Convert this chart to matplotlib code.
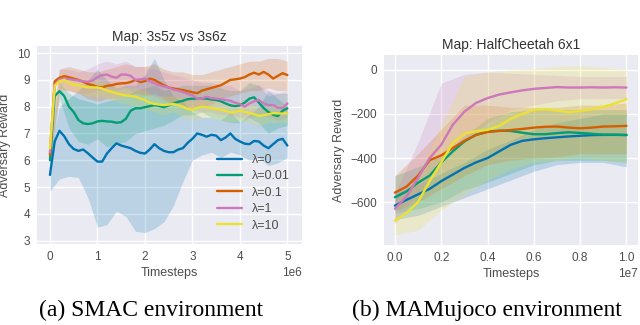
import numpy as np
import matplotlib
matplotlib.use("Agg")
import matplotlib.pyplot as plt
import seaborn as sns

sns.set_theme(style="darkgrid")
plt.rcParams['font.family'] = ['Liberation Sans', 'DejaVu Sans']

labels = ["λ=0", "λ=0.01", "λ=0.1", "λ=1", "λ=10"]
colors = ['#0173b2', '#029e73', '#d55e00', '#cc78bc', '#ece133']

# ---------- SMAC (left) ----------
smac_x = [i / 10 for i in range(51)]  # x 1e6
smac_blue = [5.45, 6.7, 7.1, 6.9, 6.6, 6.42, 6.35, 6.4, 6.26, 6.1, 5.95, 5.95, 6.25, 6.45, 6.63, 6.55,
             6.5, 6.45, 6.35, 6.28, 6.25, 6.4, 6.6, 6.45, 6.35, 6.3, 6.3, 6.4, 6.45, 6.65, 6.8, 7.0,
             6.95, 6.88, 6.95, 6.92, 6.75, 6.85, 7.0, 6.8, 6.7, 6.62, 6.6, 6.72, 6.7, 6.55, 6.45, 6.6,
             6.75, 6.8, 6.55]
smac_green = [6.0, 8.4, 8.58, 8.4, 8.0, 7.8, 7.5, 7.38, 7.35, 7.38, 7.45, 7.47, 7.45, 7.44, 7.4, 7.42,
              7.55, 7.85, 7.94, 7.94, 7.98, 8.02, 8.06, 8.03, 7.98, 8.05, 8.12, 8.18, 8.22, 8.28, 8.3,
              8.3, 8.3, 8.3, 8.27, 8.25, 8.2, 8.12, 8.05, 8.02, 8.05, 8.15, 8.3, 8.35, 8.15, 7.95, 7.8,
              7.7, 7.65, 7.85, 7.94]
smac_orange = [6.2, 8.95, 9.08, 9.14, 9.1, 9.05, 9.0, 8.93, 8.85, 8.8, 8.74, 8.72, 8.78, 8.8, 8.85,
               8.87, 8.88, 8.92, 9.0, 8.92, 8.95, 9.05, 9.0, 8.9, 8.8, 8.72, 8.68, 8.65, 8.62, 8.58,
               8.54, 8.5, 8.6, 8.65, 8.7, 8.75, 8.8, 8.9, 9.0, 9.02, 9.05, 9.1, 9.2, 9.27, 9.2, 9.3,
               9.2, 9.05, 9.15, 9.25, 9.18]
smac_pink = [6.3, 8.8, 9.02, 9.05, 9.03, 9.0, 8.98, 8.95, 8.93, 8.98, 9.1, 9.18, 9.2, 9.12, 9.08, 9.2,
             9.2, 9.15, 9.0, 9.02, 9.05, 8.95, 8.88, 8.8, 8.76, 8.72, 8.64, 8.6, 8.55, 8.48, 8.43, 8.3,
             8.3, 8.37, 8.32, 8.3, 8.28, 8.25, 8.22, 8.15, 8.1, 8.0, 8.12, 8.2, 8.25, 8.12, 8.06, 8.06,
             7.96, 7.95, 8.12]
smac_yellow = [6.44, 8.78, 8.95, 9.0, 8.9, 8.82, 8.8, 8.75, 8.72, 8.72, 8.72, 8.68, 8.6, 8.55, 8.5,
               8.45, 8.42, 8.4, 8.37, 8.3, 8.25, 8.15, 8.1, 8.08, 8.06, 8.08, 8.1, 8.06, 8.0, 7.92,
               7.88, 7.95, 8.0, 7.98, 7.94, 7.92, 7.88, 7.85, 7.78, 7.8, 7.85, 7.8, 7.77, 7.72, 7.66,
               7.68, 7.72, 7.76, 7.75, 7.74, 7.75]

smac_bx = [i / 5 for i in range(26)]
smac_blue_lo = [4.85, 5.3, 5.4, 5.35, 4.6, 3.5, 3.6, 4.1, 3.9, 3.35, 3.3, 3.45, 3.7, 4.3, 5.2, 6.0,
                6.2, 6.3, 6.1, 6.3, 6.2, 6.0, 6.1, 5.8, 5.9, 6.1]
smac_blue_hi = [6.2, 8.0, 8.3, 8.6, 9.0, 9.4, 9.0, 8.7, 8.8, 8.8, 9.2, 9.8, 9.0, 8.4, 8.2, 7.8, 7.6,
                7.6, 7.5, 7.8, 7.4, 7.7, 8.0, 8.6, 8.3, 8.0]
smac_green_lo = [5.7, 8.3, 7.2, 6.7, 6.6, 6.8, 6.5, 6.6, 6.7, 7.0, 7.1, 7.2, 7.3, 7.5, 7.7, 7.7, 7.8,
                 7.6, 7.5, 7.4, 7.4, 7.6, 7.4, 7.0, 7.2, 7.3]
smac_green_hi = [6.3, 8.9, 8.5, 8.3, 8.2, 8.1, 8.2, 8.3, 8.4, 8.6, 8.7, 8.8, 8.6, 8.7, 8.8, 8.8, 8.8,
                 8.8, 8.7, 8.6, 8.6, 8.9, 8.8, 8.4, 8.5, 8.5]
smac_orange_lo = [5.9, 8.7, 8.6, 8.5, 8.3, 8.2, 8.3, 8.3, 8.4, 8.5, 8.4, 8.5, 8.3, 8.1, 8.0, 7.9, 8.0,
                  8.1, 8.3, 8.4, 8.5, 8.6, 8.6, 8.7, 8.6, 8.6]
smac_orange_hi = [6.6, 9.4, 9.5, 9.4, 9.3, 9.3, 9.4, 9.5, 9.6, 9.5, 9.5, 9.6, 9.4, 9.3, 9.3, 9.2, 9.2,
                  9.3, 9.4, 9.5, 9.6, 9.7, 9.7, 9.8, 9.8, 9.7]
smac_pink_lo = [6.0, 8.6, 8.6, 8.5, 8.5, 8.6, 8.7, 8.6, 8.7, 8.5, 8.5, 8.4, 8.2, 8.1, 8.0, 7.9, 7.8,
                7.8, 7.7, 7.7, 7.6, 7.6, 7.7, 7.6, 7.5, 7.6]
smac_pink_hi = [6.6, 9.4, 9.4, 9.3, 9.4, 9.6, 9.7, 9.6, 9.7, 9.5, 9.5, 9.4, 9.3, 9.2, 9.1, 9.0, 8.9,
                8.9, 8.8, 8.8, 8.6, 8.7, 8.8, 8.6, 8.5, 8.6]
smac_yellow_lo = [6.2, 8.6, 8.6, 8.5, 8.4, 8.4, 8.3, 8.2, 8.1, 8.0, 7.9, 7.8, 7.7, 7.8, 7.6, 7.5, 7.6,
                  7.6, 7.5, 7.4, 7.5, 7.4, 7.3, 7.4, 7.4, 7.4]
smac_yellow_hi = [6.7, 9.3, 9.2, 9.1, 9.0, 9.0, 8.9, 8.8, 8.7, 8.7, 8.6, 8.4, 8.4, 8.4, 8.3, 8.2, 8.3,
                  8.3, 8.2, 8.1, 8.2, 8.1, 8.0, 8.0, 8.1, 8.1]

# ---------- MAMujoco (right) ----------
mj_x = [i / 20 for i in range(21)]  # x 1e7
mj_blue = [-616, -590, -565, -540, -505, -475, -445, -420, -400, -370, -340, -322, -315, -310, -306,
           -302, -299, -296, -295, -295, -295]
mj_green = [-578, -552, -512, -480, -420, -370, -325, -295, -280, -276, -277, -285, -292, -292, -287,
            -283, -286, -290, -294, -294, -296]
mj_orange = [-557, -530, -480, -410, -388, -355, -322, -295, -282, -277, -273, -268, -262, -258, -257,
             -262, -265, -262, -257, -256, -254]
mj_pink = [-630, -575, -490, -400, -340, -249, -190, -150, -128, -112, -102, -93, -86, -82, -78, -80,
           -80, -79, -80, -79, -80]
mj_yellow = [-684, -650, -600, -505, -420, -332, -290, -278, -272, -255, -222, -200, -181, -178, -185,
             -192, -187, -178, -168, -152, -133]

mj_bx = [i / 10 for i in range(11)]
mj_blue_lo = [-680, -660, -620, -580, -540, -500, -460, -430, -420, -420, -440]
mj_blue_hi = [-560, -520, -470, -420, -360, -320, -270, -240, -220, -200, -200]
mj_green_lo = [-650, -630, -600, -545, -510, -470, -430, -410, -410, -410, -420]
mj_green_hi = [-480, -440, -390, -300, -220, -190, -180, -180, -180, -180, -180]
mj_orange_lo = [-640, -600, -540, -480, -430, -410, -400, -395, -380, -380, -380]
mj_orange_hi = [-480, -380, -270, -160, -160, -170, -170, -170, -160, -160, -150]
mj_pink_lo = [-700, -560, -420, -320, -240, -180, -160, -140, -130, -130, -130]
mj_pink_hi = [-560, -330, -60, -20, -10, -15, -20, -25, -30, -30, -30]
mj_yellow_lo = [-750, -727, -636, -570, -500, -450, -420, -410, -400, -410, -420]
mj_yellow_hi = [-600, -480, -250, -30, -10, 0, 5, 15, 20, 10, 0]

fig = plt.figure(figsize=(6.4, 3.25), dpi=100)
ax1 = fig.add_axes([0.058, 0.249, 0.414, 0.609])
ax2 = fig.add_axes([0.600, 0.246, 0.397, 0.585])

sx = np.array(smac_x) * 1e6
sbx = np.array(smac_bx) * 1e6
smac_lines = [smac_blue, smac_green, smac_orange, smac_pink, smac_yellow]
smac_bands = [(smac_blue_lo, smac_blue_hi), (smac_green_lo, smac_green_hi),
              (smac_orange_lo, smac_orange_hi), (smac_pink_lo, smac_pink_hi),
              (smac_yellow_lo, smac_yellow_hi)]
for (lo, hi), c in zip(smac_bands, colors):
    ax1.fill_between(sbx, lo, hi, color=c, alpha=0.2, linewidth=0)
for y, c, l in zip(smac_lines, colors, labels):
    ax1.plot(sx, y, color=c, lw=1.7, label=l)

mx = np.array(mj_x) * 1e7
mbx = np.array(mj_bx) * 1e7
mj_lines = [mj_blue, mj_green, mj_orange, mj_pink, mj_yellow]
mj_bands = [(mj_blue_lo, mj_blue_hi), (mj_green_lo, mj_green_hi), (mj_orange_lo, mj_orange_hi),
            (mj_pink_lo, mj_pink_hi), (mj_yellow_lo, mj_yellow_hi)]
for (lo, hi), c in zip(mj_bands, colors):
    ax2.fill_between(mbx, lo, hi, color=c, alpha=0.2, linewidth=0)
for y, c in zip(mj_lines, colors):
    ax2.plot(mx, y, color=c, lw=1.7)

ax1.set_xlim(-0.27e6, 5.31e6)
ax1.set_ylim(2.87, 10.26)
ax1.set_yticks([3, 4, 5, 6, 7, 8, 9, 10])
ax1.set_xticks([0, 1e6, 2e6, 3e6, 4e6, 5e6])
ax2.set_xlim(-0.047e7, 1.05e7)
ax2.set_ylim(-795, 68)
ax2.set_yticks([-600, -400, -200, 0])
ax2.set_xticks([0, 0.2e7, 0.4e7, 0.6e7, 0.8e7, 1.0e7])

tc = '0.3'
for ax, t in [(ax1, "Map: 3s5z vs 3s6z"), (ax2, "Map: HalfCheetah 6x1")]:
    ax.set_title(t, fontsize=10, color='0.2', pad=4)
    ax.set_xlabel("Timesteps", fontsize=9, color=tc, labelpad=3)
    ax.set_ylabel("Adversary Reward", fontsize=9, color=tc)
    ax.tick_params(axis='both', labelsize=8.5, colors=tc, length=0, pad=5)
    ax.xaxis.get_offset_text().set_fontsize(8.5)
    ax.xaxis.get_offset_text().set_color(tc)
    for s in ax.spines.values():
        s.set_visible(False)

ax1.yaxis.set_label_coords(-0.1, 0.5)
ax2.yaxis.set_label_coords(-0.155, 0.5)

leg = ax1.legend(loc='lower right', frameon=False, fontsize=9, handlelength=2.0,
                 labelspacing=0.35, borderaxespad=0.6)
for t in leg.get_texts():
    t.set_color(tc)

fig.text(0.236, 0.045, "(a) SMAC environment", family='Liberation Serif', fontsize=17,
         ha='center', va='center', color='black')
fig.text(0.76, 0.045, "(b) MAMujoco environment", family='Liberation Serif', fontsize=17,
         ha='center', va='center', color='black')

fig.savefig("out.png", dpi=100)
